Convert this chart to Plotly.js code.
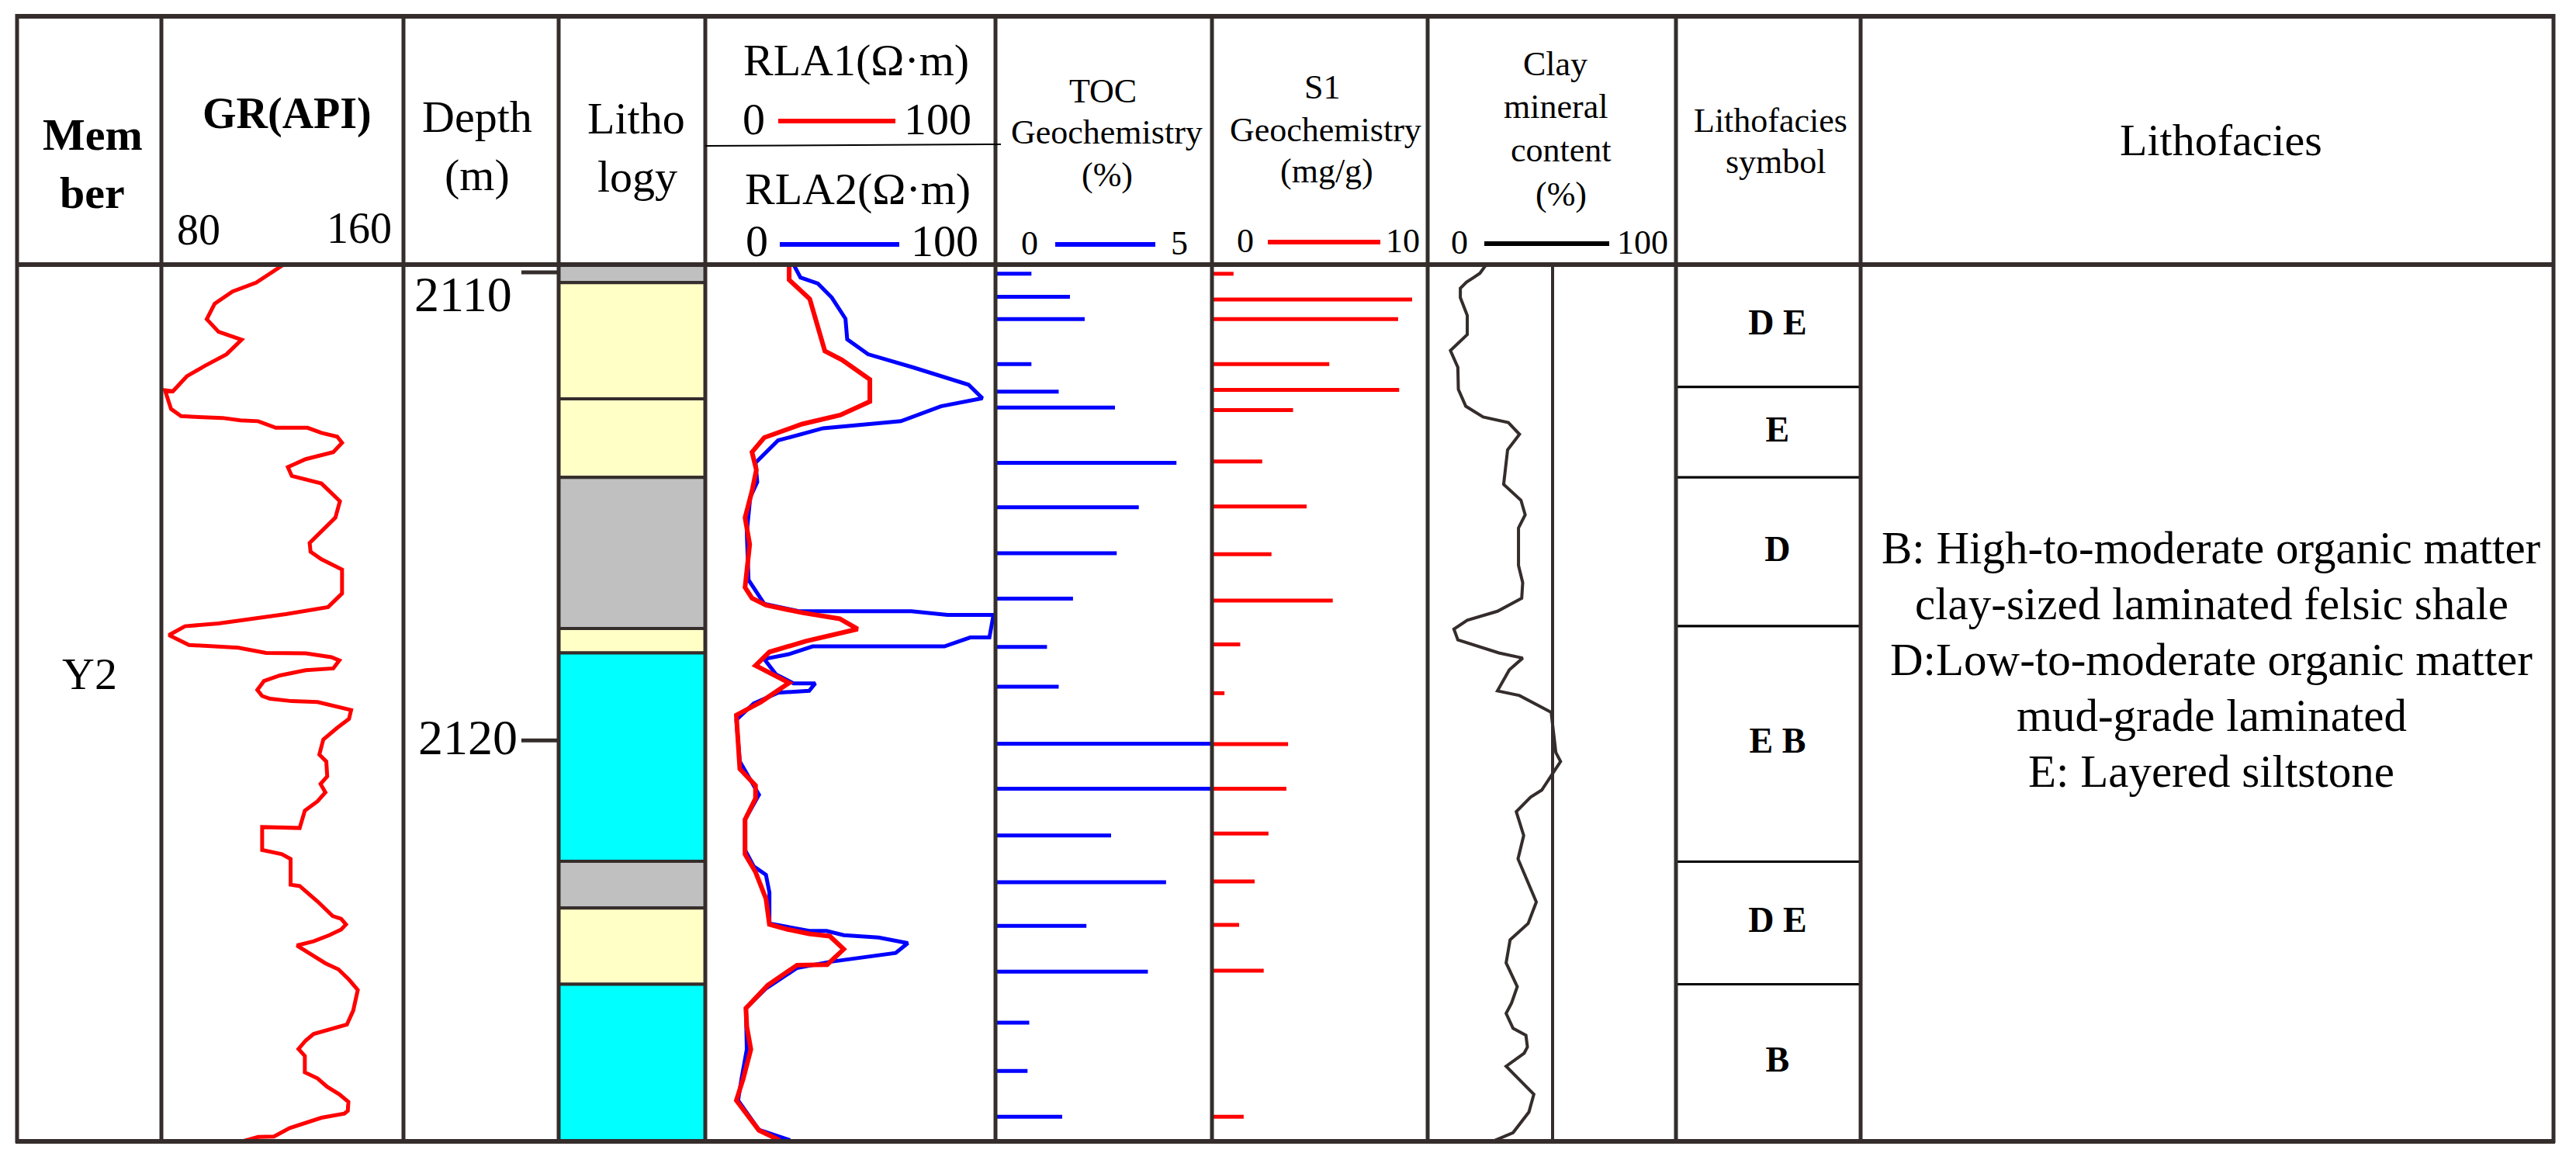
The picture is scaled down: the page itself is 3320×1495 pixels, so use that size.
<!DOCTYPE html>
<html><head><meta charset="utf-8">
<script src="https://cdn.plot.ly/plotly-3.0.1.min.js"></script>
<style>html,body{margin:0;padding:0;background:#fff}#chart{width:3320px;height:1495px}</style>
</head><body><div id="chart"></div>
<script>
// ---------- DATA ----------
const depthTicks = [2110, 2120];
const memberName = 'Y2';

const grDepth = [2109.83,2110.22,2110.41,2110.67,2111.00,2111.27,2111.44,2111.75,2112.00,2112.22,2112.54,2112.52,2112.92,2113.07,2113.09,2113.11,2113.16,2113.18,2113.32,2113.32,2113.43,2113.51,2113.64,2113.84,2113.99,2114.16,2114.35,2114.51,2114.89,2115.24,2115.78,2115.97,2116.13,2116.35,2116.86,2117.15,2117.30,2117.40,2117.50,2117.56,2117.75,2117.96,2118.02,2118.13,2118.14,2118.22,2118.29,2118.46,2118.50,2118.61,2118.73,2118.92,2119.05,2119.11,2119.16,2119.18,2119.35,2119.54,2119.73,2119.98,2120.30,2120.45,2120.77,2120.93,2121.11,2121.30,2121.50,2121.87,2121.85,2122.34,2122.43,2122.53,2123.08,2123.11,2123.44,2123.75,2123.81,2123.93,2124.04,2124.16,2124.29,2124.38,2124.60,2124.76,2124.89,2125.11,2125.33,2125.77,2126.07,2126.27,2126.41,2126.59,2126.74,2127.09,2127.22,2127.40,2127.56,2127.72,2127.91,2127.97,2128.06,2128.16,2128.28,2128.46,2128.47,2128.59];
const grValue = [120.5,111.3,103.5,97.6,95.0,98.9,106.5,101.5,94.3,88.4,83.8,81.2,83.2,86.5,92.3,100.2,106.1,112.0,117.8,128.3,132.9,138.1,139.7,136.8,127.7,121.8,123.1,132.9,139.0,137.5,129.0,129.3,132.9,139.7,139.7,135.1,121.1,110.7,98.9,87.8,82.5,89.1,105.4,114.6,127.7,136.2,138.8,136.8,127.7,119.2,113.9,111.7,113.3,115.9,123.1,131.6,142.7,142.0,138.1,133.5,132.2,134.5,134.8,132.6,134.2,131.6,127.4,125.7,113.3,113.3,119.8,122.7,122.7,125.7,131.6,136.6,139.4,141.0,139.4,135.5,130.3,124.8,130.3,134.2,138.5,142.0,144.9,143.4,141.3,130.3,127.7,125.3,127.4,127.4,131.6,134.8,138.8,141.8,141.6,140.5,132.9,127.7,122.4,117.2,112.0,105.4];

const rla1Depth = [2109.83,2110.16,2110.57,2111.68,2111.87,2112.29,2112.76,2113.05,2113.24,2113.53,2113.84,2114.22,2114.67,2115.24,2115.81,2116.73,2116.96,2117.11,2117.27,2117.40,2117.62,2117.88,2118.11,2118.40,2118.77,2119.18,2119.46,2120.61,2120.96,2121.24,2121.69,2122.43,2122.81,2123.38,2123.93,2124.04,2124.13,2124.18,2124.46,2124.79,2124.80,2125.23,2125.72,2126.11,2126.60,2127.22,2127.69,2128.33,2128.54];
const rla1Value = [28.9,28.9,36.0,41.2,47.1,56.7,56.7,46.5,33.4,20.3,16.1,17.6,16.1,13.7,15.3,13.7,16.1,20.9,33.4,46.3,52.5,34.6,22.1,17.3,28.9,19.1,10.7,11.9,17.3,17.3,13.7,13.7,17.3,20.9,22.1,28.6,35.8,42.9,47.7,42.0,31.6,21.5,14.0,14.3,15.7,13.1,10.7,18.5,25.6];

const rla2Depth = [2109.83,2110.11,2110.24,2110.54,2110.99,2111.43,2111.75,2112.03,2112.40,2112.69,2112.86,2113.18,2113.33,2113.59,2114.07,2114.48,2114.80,2115.56,2116.57,2117.08,2117.24,2117.24,2117.32,2117.32,2117.80,2117.80,2117.99,2117.99,2118.16,2118.26,2118.59,2118.78,2118.78,2118.94,2118.98,2119.21,2119.56,2120.45,2121.16,2121.69,2122.34,2122.69,2122.87,2123.25,2123.91,2124.07,2124.07,2124.16,2124.21,2124.33,2124.54,2124.62,2124.73,2124.86,2125.30,2125.72,2126.60,2127.22,2127.69,2128.32,2128.54];
const rla2Value = [30.4,32.8,38.8,43.6,48.3,48.9,56.1,71.6,90.7,95.5,81.2,67.4,40.6,25.1,17.3,17.9,15.5,14.3,14.9,20.3,32.2,71.0,83.5,99.3,97.9,91.3,82.4,37.0,28.6,20.3,24.4,30.4,37.9,35.8,25.1,16.7,10.7,11.9,18.5,13.7,13.7,16.7,20.9,22.1,22.1,35.8,41.8,47.7,59.7,69.8,65.6,54.9,42.9,31.6,20.9,14.0,14.3,12.5,11.3,18.5,29.2];

const tocDepth = [2110.03,2110.52,2111.00,2111.96,2112.55,2112.89,2114.07,2115.02,2116.00,2116.97,2118.00,2118.85,2120.07,2121.03,2122.03,2123.03,2123.96,2124.94,2126.03,2127.06,2128.04];
const tocValue = [0.83,1.72,2.06,0.83,1.46,2.76,4.18,3.31,2.80,1.79,1.19,1.46,5.0,5.0,2.67,3.94,2.10,3.52,0.78,0.74,1.54];

const s1Depth = [2110.03,2110.58,2111.00,2111.96,2112.51,2112.94,2114.04,2115.00,2116.02,2117.01,2117.95,2118.99,2120.08,2121.03,2121.99,2123.01,2123.94,2124.92,2128.04];
const s1Value = [1.00,9.28,8.63,5.44,8.68,3.76,2.33,4.39,2.76,5.60,1.31,0.58,3.53,3.45,2.62,1.98,1.26,2.40,1.47];

const clayDepth = [2109.83,2110.02,2110.11,2110.21,2110.34,2110.54,2110.92,2111.33,2111.67,2112.03,2112.50,2112.86,2113.09,2113.21,2113.46,2113.79,2114.53,2114.87,2115.18,2115.46,2116.26,2116.63,2116.96,2117.24,2117.43,2117.62,2117.85,2118.13,2118.24,2118.49,2118.94,2119.04,2119.40,2120.26,2120.45,2120.70,2121.06,2121.21,2121.52,2122.03,2122.53,2123.45,2123.91,2124.26,2124.75,2125.26,2125.61,2125.83,2126.15,2126.30,2126.55,2126.68,2126.96,2127.25,2127.56,2127.94,2128.38,2128.55];
const clayValue = [23.7,21.1,18.6,15.7,13.2,13.2,16.0,16.0,9.2,12.2,12.4,15.4,22.4,32.6,37.1,32.3,30.7,37.7,39.4,36.7,36.7,38.4,38.0,28.2,16.0,10.6,12.2,28.8,38.4,33.0,28.2,37.1,49.9,51.8,53.7,50.5,46.1,41.6,35.8,38.8,36.5,43.9,40.6,33.3,31.7,36.2,33.9,31.7,34.5,39.7,40.3,39.0,31.7,37.1,42.9,40.9,34.5,26.9];

const lithoTop    = [2109.83,2110.22,2112.70,2114.38,2117.61,2118.13,2122.58,2123.58,2125.21];
const lithoBottom = [2110.22,2112.70,2114.38,2117.61,2118.13,2122.58,2123.58,2125.21,2128.57];
const lithoType   = ['mudstone','siltstone','siltstone','mudstone','siltstone','shale','mudstone','siltstone','shale'];

const faciesTop    = [2109.83,2112.45,2114.38,2117.56,2122.59,2125.21];
const faciesBottom = [2112.45,2114.38,2117.56,2122.59,2125.21,2128.57];
const faciesLabel  = ['D E','E','D','E B','D E','B'];

const descLines = ['B: High-to-moderate organic matter','clay-sized laminated felsic shale','D:Low-to-moderate organic matter','mud-grade laminated','E: Layered siltstone'];

// ---------- STYLE / LAYOUT ----------
const W = 3320, H = 1495;
const px = x => x / W, py = y => 1 - y / H;
const FRAME = '#342d2b';
const FONT = '"Liberation Serif", "Times New Roman", serif';
const lithoColor = {mudstone:'#C0C0C0', siltstone:'#FFFFC6', shale:'#00FFFF'};
const yTop = 341, yBot = 1471;

function segs(depths, values){
  const x=[], y=[];
  depths.forEach((d,i)=>{ x.push(0, values[i], null); y.push(d, d, null); });
  return {x, y};
}

const tocS = segs(tocDepth, tocValue);
const s1S = segs(s1Depth, s1Value);

const traces = [
  {type:'scatter', mode:'lines', x:grValue, y:grDepth, xaxis:'x', yaxis:'y', line:{color:'#FF0000', width:5}},
  {type:'bar', orientation:'h', xaxis:'x2', yaxis:'y',
   x:lithoTop.map(()=>1), base:0,
   y:lithoTop.map((t,i)=>(t+lithoBottom[i])/2),
   width:lithoTop.map((t,i)=>lithoBottom[i]-t),
   marker:{color:lithoType.map(t=>lithoColor[t]), line:{color:FRAME, width:4}}},
  {type:'scatter', mode:'lines', x:rla2Value, y:rla2Depth, xaxis:'x3', yaxis:'y', line:{color:'#0000FF', width:5}},
  {type:'scatter', mode:'lines', x:rla1Value, y:rla1Depth, xaxis:'x3', yaxis:'y', line:{color:'#FF0000', width:6}},
  {type:'scatter', mode:'lines', x:tocS.x, y:tocS.y, xaxis:'x4', yaxis:'y', line:{color:'#0000FF', width:5}},
  {type:'scatter', mode:'lines', x:s1S.x, y:s1S.y, xaxis:'x5', yaxis:'y', line:{color:'#FF0000', width:5}},
  {type:'scatter', mode:'lines', x:clayValue, y:clayDepth, xaxis:'x6', yaxis:'y', line:{color:FRAME, width:4}},
  {type:'bar', orientation:'h', xaxis:'x7', yaxis:'y',
   x:faciesTop.map(()=>1), base:0,
   y:faciesTop.map((t,i)=>(t+faciesBottom[i])/2),
   width:faciesTop.map((t,i)=>faciesBottom[i]-t),
   marker:{color:'#FFFFFF', line:{color:'#000000', width:3}}},
  {type:'scatter', mode:'text', xaxis:'x7', yaxis:'y',
   x:faciesLabel.map(()=>0.55),
   y:faciesTop.map((t,i)=>(t+faciesBottom[i])/2),
   text:faciesLabel, textposition:'middle center',
   textfont:{family:FONT, size:46, color:'#000', weight:'bold'}}
];

function xax(l, r, range){
  return {domain:[px(l), px(r)], range:range, visible:false, fixedrange:true, anchor:'y', showgrid:false, zeroline:false};
}

const shapes = [];
function line(x0,y0,x1,y1,w,c){
  shapes.push({type:'line', xref:'paper', yref:'paper', x0:px(x0), y0:py(y0), x1:px(x1), y1:py(y1), line:{color:c||FRAME, width:w}});
}
[22,208,520,720,909,1283,1562,1840,2160,2398,3291].forEach(x=>line(x,18,x,1473,5));
line(2001, yTop, 2001, yBot, 4);
line(20,21,3293,21,6);
line(20,yTop,3293,yTop,6);
line(20,yBot,3293,yBot,6);
line(909,188,1290,186,2,'#000');
line(1003,156,1154,156,6,'#FF0000');
line(1005,315,1159,315,6,'#0000FF');
line(1360,315,1489,315,6,'#0000FF');
line(1634,312,1779,312,6,'#FF0000');
line(1913,314,2074,314,6,'#000000');
depthTicks.forEach(d=>{
  shapes.push({type:'line', xref:'paper', yref:'y', x0:px(672), x1:px(720), y0:d, y1:d, line:{color:FRAME, width:5}});
});

const annotations = [];
function A(text, cx, base, size, bold){
  annotations.push({
    text:text, xref:'paper', yref:'paper', x:px(cx), y:py(base - 0.3375*size),
    xanchor:'center', yanchor:'middle', showarrow:false,
    font:{family:FONT, size:size, color:'#000', weight: bold ? 'bold' : 'normal'}
  });
}
A('Mem',119,193,58,true); A('ber',119,268,58,true);
A('GR(API)',370,165,56,true);
A('80',256,315,56); A('160',463,313,56);
A('Depth',615,170,58); A('(m)',615,245,58);
A('Litho',820,172,58); A('logy',821,247,58);
A('RLA1(Ω·m)',1103,97,58);
A('0',971,173,58); A('100',1208,173,58);
A('RLA2(Ω·m)',1105,263,58);
A('0',975,330,58); A('100',1217,330,58);
A('TOC',1421,132,44); A('Geochemistry',1426,185,44); A('(%)',1427,240,44);
A('0',1327,328,44); A('5',1520,328,44);
A('S1',1704,127,44); A('Geochemistry',1708,182,44); A('(mg/g)',1710,235,44);
A('0',1605,325,44); A('10',1808,325,44);
A('Clay',2005,97,44); A('mineral',2005,152,44); A('content',2012,208,44); A('(%)',2012,265,44);
A('0',1881,327,44); A('100',2117,327,44);
A('Lithofacies',2282,170,44); A('symbol',2289,223,44);
A('Lithofacies',2862,200,58);
A(memberName,115,888,58);
descLines.forEach((t,i)=>A(t,2850,726+72*i,59));
annotations.push({text:String(depthTicks[0]), xref:'paper', yref:'y', x:px(597), y:depthTicks[0], yshift:-28,
  xanchor:'center', yanchor:'middle', showarrow:false, font:{family:FONT, size:64, color:'#000'}});
annotations.push({text:String(depthTicks[1]), xref:'paper', yref:'y', x:px(603), y:depthTicks[1], yshift:4,
  xanchor:'center', yanchor:'middle', showarrow:false, font:{family:FONT, size:64, color:'#000'}});

const layout = {
  width:W, height:H, margin:{l:0,r:0,t:0,b:0,pad:0},
  paper_bgcolor:'#fff', plot_bgcolor:'rgba(0,0,0,0)',
  font:{family:FONT},
  showlegend:false, hovermode:false, barmode:'overlay',
  yaxis:{domain:[1-yBot/H, 1-yTop/H], range:[2128.565, 2109.834], visible:false, fixedrange:true, anchor:'x', showgrid:false, zeroline:false},
  xaxis: xax(208,520,[80,160]),
  xaxis2: xax(720,909,[0,1]),
  xaxis3: xax(909,1283,[0,100]),
  xaxis4: xax(1283,1562,[0,5]),
  xaxis5: xax(1562,1840,[0,10]),
  xaxis6: xax(1840,2159,[0,100]),
  xaxis7: xax(2160,2398,[0,1]),
  shapes:shapes, annotations:annotations
};

Plotly.newPlot('chart', traces, layout, {staticPlot:true, displayModeBar:false});
</script></body></html>
